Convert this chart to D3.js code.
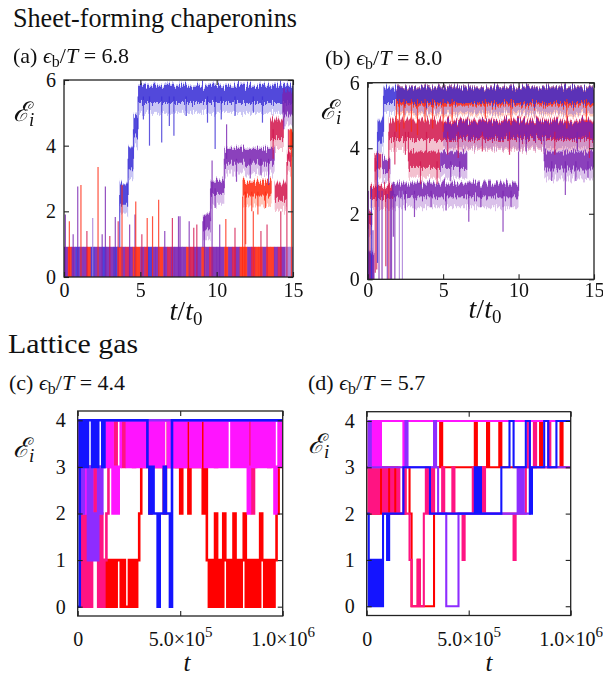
<!DOCTYPE html>
<html>
<head>
<meta charset="utf-8">
<script src="https://cdn.jsdelivr.net/npm/d3@7"></script>
<style>
  body { margin: 0; background: #fff; }
  svg { display: block; }
  text { font-family: "Liberation Serif", "DejaVu Serif", serif; fill: #111; }
</style>
</head>
<body>
<svg id="fig" width="603" height="675"></svg>
<script>
// ---------- data ----------
// chaperonin panels: time in t0, E in units
const tTicksAB = [0, 5, 10, 15];
const eTicksAB = [0, 2, 4, 6];
// lattice panels
const tTicksCD = [0, 5e5, 1e6];
const eTicksCD = [0, 1, 2, 3, 4];

// (a) colour of the fast 0 <-> 1 flickering band, one letter per 0.25 t0
const aBase = "prpbpprbppbppbrpmprrpmbpprpmpppprmpprpmppprpmprrpmrrprrpmpll";
const aBaseTop = 0.92;
// (a) plateaus: [trace, t start, t end, low, high]
const aPlateaus = [
  ["b", 3.65, 4.2, 2.2, 2.85], ["b", 4.2, 4.55, 3.25, 3.95], ["b", 4.55, 4.85, 4.25, 4.9],
  ["b", 4.85, 15, 5.3, 5.82],
  ["p", 9.1, 9.6, 1.45, 1.9], ["p", 9.6, 10.5, 2.5, 2.9], ["p", 10.5, 13.8, 3.45, 3.9],
  ["m", 13.5, 14.4, 4.2, 4.8], ["p", 14.3, 15, 4.95, 5.65],
  ["r", 11.7, 13.6, 2.45, 2.9], ["m", 13.8, 14.6, 2.35, 2.85],
  ["m", 14.6, 14.9, 3.45, 3.8], ["r", 14.75, 15, 3.9, 4.5]
];
// (a) spikes and dips: [t, from, to, trace]
const aSpikes = [
  [0.09, 0, 1.9, "p"], [0.35, 0, 1.7, "r"], [0.6, 0, 1.3, "p"], [0.9, 0, 2.76, "p"], [1.11, 0, 2.8, "r"],
  [1.5, 0, 1.4, "m"], [1.88, 0, 1.8, "l"], [2.23, 0, 3.35, "r"], [2.5, 0, 1.3, "p"], [2.71, 0, 2.76, "p"],
  [3.0, 0, 1.25, "m"], [3.36, 0, 1.83, "p"], [3.55, 0, 1.7, "m"], [3.8, 0, 2.8, "r"], [4.3, 0, 1.6, "p"],
  [4.65, 0, 1.9, "p"], [4.7, 0, 2.3, "r"], [5.1, 0, 1.3, "m"], [5.45, 0, 1.8, "r"], [5.8, 0, 1.85, "r"],
  [6.2, 0, 2.35, "r"], [6.6, 0, 1.4, "p"], [7.1, 0, 1.8, "m"], [7.5, 0, 1.85, "p"], [7.6, 0, 1.85, "p"],
  [8.2, 0, 1.7, "p"], [8.5, 0, 1.5, "m"], [8.7, 0, 1.6, "m"], [9.2, 0, 1.9, "p"], [9.7, 0, 3.55, "p"],
  [10.2, 0, 1.6, "p"], [10.6, 0, 1.77, "r"], [11.2, 0, 1.5, "m"], [11.7, 0, 2.45, "r"], [11.85, 0, 2.6, "r"],
  [12.4, 0, 2.0, "r"], [12.9, 0, 1.4, "m"], [13.3, 0, 1.6, "m"], [14.2, 0, 2.0, "m"], [14.6, 0, 3.5, "m"],
  [14.9, 0, 4.5, "r"],
  [3.65, 0.9, 2.5, "b"], [4.2, 2.5, 3.6, "b"], [4.55, 3.6, 4.5, "b"], [4.85, 4.5, 5.5, "b"],
  [5.2, 4.8, 5.5, "b"], [5.6, 4.0, 5.5, "b"], [6.4, 4.1, 5.5, "b"], [6.9, 4.6, 5.5, "b"], [7.2, 4.3, 5.5, "b"],
  [8.0, 4.9, 5.5, "b"], [9.4, 4.7, 5.5, "b"], [9.9, 3.9, 5.5, "b"], [10.3, 4.8, 5.5, "b"], [11.2, 4.9, 5.5, "b"],
  [12.4, 5.0, 5.5, "b"], [13.0, 4.7, 5.5, "b"],
  [9.1, 0.9, 1.7, "p"], [9.6, 1.7, 2.7, "p"], [9.9, 2.1, 2.7, "p"], [10.5, 2.7, 3.6, "p"], [10.65, 3.6, 4.65, "p"],
  [11.3, 2.9, 3.6, "p"], [12.2, 3.0, 3.6, "p"], [12.9, 3.1, 3.6, "p"], [13.4, 2.8, 3.6, "p"],
  [13.7, 3.6, 4.5, "m"], [14.4, 4.5, 5.3, "p"],
  [11.9, 1.0, 2.6, "r"], [12.3, 2.0, 2.6, "r"], [12.7, 1.9, 2.6, "r"], [13.2, 2.1, 2.6, "r"], [14.7, 3.6, 4.5, "m"]
];

// (b) plateaus
const bPlateaus = [
  ["p", 0, 0.45, 0, 0.8], ["b", 0, 0.3, 0, 0.85],
  ["m", 0, 0.3, 1.6, 2.0], ["m", 0.15, 1.7, 2.45, 2.85], ["m", 0.45, 0.9, 3.35, 3.85],
  ["b", 0.65, 1.05, 4.2, 4.85],
  ["r", 1.9, 15, 5.3, 5.85], ["b", 1.05, 15, 5.38, 5.85],
  ["m", 1.4, 15, 4.25, 4.85], ["p", 5.0, 15, 4.3, 4.8],
  ["p", 0.95, 1.5, 3.3, 3.7], ["m", 2.7, 4.8, 3.4, 3.9], ["p", 4.8, 6.6, 3.4, 3.88],
  ["p", 1.6, 10, 2.5, 2.92], ["p", 11.7, 15, 3.35, 3.9]
];
const bSpikes = [
  [0.05, 0, 2.7, "p"], [0.15, 0, 2.0, "m"], [0.25, 0, 2.8, "b"], [0.35, 0, 1.5, "p"], [0.5, 0.2, 3.7, "m"],
  [0.6, 0.3, 3.6, "m"], [0.75, 0, 2.7, "p"], [0.65, 0.5, 4.5, "b"], [1.05, 4.5, 5.6, "b"],
  [0.95, 0, 2.7, "p"], [1.2, 0.4, 2.7, "m"], [1.3, 0, 2.6, "p"],
  [1.4, 0, 2.7, "m"], [1.5, 0, 2.7, "p"], [1.58, 0, 2.7, "p"], [1.7, 1.3, 2.7, "p"], [1.8, 0, 2.6, "p"],
  [2.1, 0, 2.7, "l"], [2.3, 0, 2.7, "l"], [1.4, 2.7, 4.5, "m"], [1.9, 4.5, 5.5, "r"], [2.7, 3.6, 4.5, "m"],
  [2.1, 4.3, 5.5, "r"], [2.4, 4.6, 5.5, "r"], [2.9, 4.5, 5.5, "r"], [3.3, 4.4, 5.5, "r"], [3.8, 4.8, 5.5, "r"],
  [4.3, 4.6, 5.5, "r"], [5.0, 4.5, 5.5, "r"], [5.6, 4.8, 5.5, "r"], [7.8, 4.9, 5.5, "r"], [9.5, 4.7, 5.5, "r"],
  [13.2, 4.6, 5.5, "r"], [14.5, 4.8, 5.5, "r"],
  [3.5, 2.9, 3.6, "m"], [4.6, 2.9, 3.6, "m"], [5.5, 3.0, 3.6, "p"], [6.1, 3.1, 3.6, "p"],
  [1.8, 3.5, 4.5, "m"], [2.5, 3.8, 4.5, "m"], [3.9, 3.9, 4.5, "m"], [5.3, 3.8, 4.5, "m"], [6.0, 3.7, 4.5, "m"],
  [7.6, 3.9, 4.5, "m"], [9.4, 3.8, 4.5, "m"], [10.5, 3.9, 4.5, "p"], [12.4, 3.8, 4.5, "m"], [13.9, 3.9, 4.5, "p"],
  [14.7, 3.7, 4.5, "m"],
  [2.5, 2.1, 2.7, "p"], [3.1, 1.9, 2.7, "p"], [4.2, 2.2, 2.7, "p"], [5.2, 2.1, 2.7, "p"], [6.7, 1.76, 2.7, "p"],
  [7.5, 2.2, 2.7, "p"], [8.97, 1.45, 2.7, "p"], [9.5, 2.2, 2.7, "p"],
  [10.0, 2.7, 3.9, "p"], [10.05, 3.9, 4.5, "p"], [11.7, 3.6, 4.5, "p"],
  [12.2, 3.0, 3.6, "p"], [13.1, 2.57, 3.6, "p"], [13.8, 3.0, 3.6, "p"], [14.6, 3.1, 3.6, "p"]
];

// lattice gas: level E_i in bins of 1e4 steps (100 bins)
const cRed = [
  3,3,4,3,3,2,3,2,3,2, 1,1,0,1,0,1,0,1,0,1, 1,0,1,0,0,1,0,1,0,1, 2,3,4,3,4,2,3,4,3,4,
  3,4,2,3,4,3,4,3,3,4, 2,4,3,4,2,3,4,3,4,3, 4,2,3,1,0,1,0,2,0,1, 0,2,1,0,1,0,2,0,1,0,
  1,2,0,1,0,1,0,1,0,2, 1,0,1,0,1,0,1,2,3,4];
const cPink = [
  3,2,0,2,0,1,0,2,3,2, 0,2,0,1,2,3,4,4,3,4, 4,4,3,4,4,4,4,3,4,4, 4,4,4,4,4,4,3,4,4,4,
  4,4,4,4,4,4,4,4,3,4, 4,4,4,4,4,4,4,4,4,4, 4,4,4,4,4,4,4,3,4,4, 4,4,4,4,4,4,4,4,4,4,
  4,4,4,4,3,2,3,4,4,4, 4,4,4,3,4,4,4,4,4,4];
const cMagenta = [
  4,3,2,3,2,3,2,3,4,3, 2,3,4,3,4,3,4,2,3,2, 3,4,4,4,3,4,3,4,3,4, 3,4,3,4,4,3,4,3,4,3,
  4,3,4,4,3,4,3,4,3,4, 3,4,3,4,4,3,4,3,4,3, 4,4,3,4,3,4,3,4,3,4, 3,4,3,4,4,3,4,3,4,3,
  4,3,4,2,3,4,3,4,3,4, 3,4,3,4,3,4,2,3,4,3];
const cViolet = [
  4,3,2,4,3,1,3,1,2,1, 3,2,3,4,4,4,4,4,4,4, 4,4,4,4,4,4,4,4,4,4, 4,4,4,4,4,4,4,4,4,4,
  4,4,4,4,4,4,4,4,4,4, 4,4,4,4,4,4,4,4,4,4, 4,4,4,4,4,4,4,4,4,4, 4,4,4,4,4,4,4,4,4,4,
  4,4,4,4,4,4,4,4,4,4, 4,4,4,4,4,4,4,4,4,4];
const cBlue = [
  0,4,3,4,3,4,4,3,4,3, 4,4,3,4,4,4,4,4,4,4, 4,4,4,4,4,4,4,4,4,4, 4,4,4,4,3,2,3,2,2,0,
  2,2,3,2,2,0,4,4,4,4, 4,4,4,4,4,4,4,4,4,4, 4,4,4,4,4,4,4,4,4,4, 4,4,4,4,4,4,4,4,4,4,
  4,4,4,4,4,4,4,4,4,4, 4,4,4,4,4,4,4,4,4,4];

const dRed = [
  3,2,3,2,2,3,2,3,3,2, 3,2,3,2,3,2,2,2,2,3, 3,2,0,0,0,1,0,0,0,0, 0,0,0,3,3,3,4,3,3,3,
  3,3,3,3,3,3,3,3,3,3, 3,3,3,4,3,3,3,3,3,4, 3,3,3,3,3,4,3,3,3,3, 3,3,3,3,3,3,3,3,3,3,
  3,3,4,3,3,4,3,3,3,3, 3,3,3,3,3,4,3,3,3,3];
const dPink = [
  3,2,3,2,3,2,3,3,2,3, 2,2,3,2,2,3,2,2,3,2, 2,1,0,0,0,1,0,0,2,3, 2,2,3,2,2,2,2,3,2,2,
  2,2,3,2,2,2,2,1,2,2, 2,2,3,2,2,2,2,3,2,2, 2,2,2,2,2,2,2,2,2,2, 2,2,1,2,2,2,2,2,3,4,
  4,4,3,4,4,4,4,4,4,3, 4,4,4,4,4,4,4,4,4,4];
const dMagenta = [
  3,4,3,4,3,4,3,4,4,4, 4,4,4,4,4,4,4,4,3,4, 4,4,4,4,4,4,4,4,4,4, 4,4,4,4,4,4,4,4,4,4,
  4,4,4,4,4,4,4,4,4,4, 4,4,4,4,4,4,4,4,4,4, 4,4,4,4,4,4,4,4,4,4, 4,4,4,4,4,4,4,4,4,4,
  4,4,4,4,4,4,4,4,4,4, 4,4,4,4,4,4,4,4,4,4];
const dViolet = [
  3,4,3,3,3,3,3,3,3,3, 3,3,3,3,3,3,3,3,3,4, 3,3,3,3,3,3,3,3,3,3, 3,3,3,4,3,2,2,2,2,0,
  0,0,0,0,0,2,2,2,2,2, 2,2,2,2,2,2,2,2,2,2, 2,2,2,2,2,2,2,2,2,2, 2,2,2,2,3,2,3,2,2,2,
  3,3,3,3,3,3,3,3,3,3, 3,3,3,3,3,3,3,3,3,3];
const dBlue = [
  2,0,1,0,1,0,1,0,2,2, 1,2,2,2,2,2,2,2,3,3, 3,3,3,3,3,3,3,3,3,3, 3,2,2,2,2,2,2,2,2,2,
  2,2,2,2,2,2,2,2,2,2, 2,2,2,3,2,3,2,2,2,2, 2,2,2,2,2,2,3,3,3,3, 4,4,3,3,3,3,3,3,4,4,
  2,3,3,3,3,3,3,4,4,3, 3,3,3,4,4,4,4,4,4,4];

const chapColor = { b: "#3b2fd6", p: "#7a24b2", r: "#ff2a12", m: "#d3174f", l: "#a77ad6" };
const latColor = { red: "#ff0000", pink: "#ff1482", magenta: "#ff14ff", violet: "#8e2cff", blue: "#1414ff" };

// ---------- drawing ----------
const svg = d3.select("#fig");
const defs = svg.append("defs");

// jitter filter: shifts each pixel column up/down a little so the plateaus look noisy
const jitter = defs.append("filter").attr("id", "jitter")
  .attr("x", "-1%").attr("y", "-30%").attr("width", "102%").attr("height", "160%");
jitter.append("feTurbulence").attr("type", "fractalNoise").attr("baseFrequency", "0.9 0.02")
  .attr("numOctaves", 2).attr("seed", 4).attr("result", "noise");
jitter.append("feColorMatrix").attr("in", "noise").attr("type", "matrix")
  .attr("values", "1 0 0 0 0  0 0 0 0 0.5  0 0 1 0 0  0 0 0 0 1").attr("result", "shift");
jitter.append("feDisplacementMap").attr("in", "SourceGraphic").attr("in2", "shift")
  .attr("scale", 16).attr("xChannelSelector", "G").attr("yChannelSelector", "R");

function axes(x, y, xVals, yVals, opt) {
  const [x0, x1] = x.range(), [y0, y1] = y.range();
  const g = svg.append("g");
  g.append("g").attr("transform", `translate(${x0},0)`)
    .call(d3.axisLeft(y).tickValues(yVals).tickSize(-5).tickPadding(opt.yPad).tickFormat(d3.format("d")));
  g.append("g").attr("transform", `translate(${x1},0)`)
    .call(d3.axisRight(y).tickValues(yVals).tickSize(-5).tickFormat(""));
  const bottom = g.append("g").attr("transform", `translate(0,${y0})`)
    .call(d3.axisBottom(x).tickValues(xVals).tickSize(-5).tickPadding(opt.xPad).tickFormat(d3.format("d")));
  g.append("g").attr("transform", `translate(0,${y1})`)
    .call(d3.axisTop(x).tickValues(xVals).tickSize(-5).tickFormat(""));
  g.selectAll(".domain").remove();
  g.selectAll(".tick line").attr("stroke", "#222").attr("stroke-width", 1.1);
  g.selectAll("text").attr("font-family", null).attr("font-size", 20).attr("fill", "#111");
  g.append("rect")
    .attr("x", x0).attr("y", y1).attr("width", x1 - x0).attr("height", y0 - y1)
    .attr("fill", "none").attr("stroke", "#222").attr("stroke-width", 1.3);
  return bottom;
}

function clipFor(id, x, y) {
  const [x0, x1] = x.range(), [y0, y1] = y.range();
  defs.append("clipPath").attr("id", id).append("rect")
    .attr("x", x0).attr("y", y1).attr("width", x1 - x0).attr("height", y0 - y1);
  return svg.append("g").attr("clip-path", `url(#${id})`);
}

function drawChap(id, x, y, base, baseTop, plateaus, spikes) {
  const plot = clipFor(id, x, y);
  if (base) {
    const w = 15 / base.length;
    plot.selectAll(".stripe").data(base.split("")).join("rect")
      .attr("x", (d, i) => x(i * w))
      .attr("width", (d, i) => x((i + 1) * w) - x(i * w) + 0.4)
      .attr("y", y(baseTop)).attr("height", y(0) - y(baseTop))
      .attr("fill", d => chapColor[d]).attr("opacity", 0.9);
  }
  const noisy = plot.append("g").attr("filter", "url(#jitter)");
  // light fringe below every plateau (the downward fluctuations)
  noisy.selectAll(".fringe").data(plateaus).join("rect")
    .attr("x", d => x(d[1])).attr("width", d => x(d[2]) - x(d[1]))
    .attr("y", d => y(d[4] + 0.05)).attr("height", d => y(d[3] > 0 ? d[3] - 0.3 : -0.5) - y(d[4] + 0.05))
    .attr("fill", d => chapColor[d[0]]).attr("opacity", 0.28);
  plot.selectAll(".spike").data(spikes).join("line")
    .attr("x1", d => x(d[0])).attr("x2", d => x(d[0]))
    .attr("y1", d => y(d[1])).attr("y2", d => y(d[2]))
    .attr("stroke", d => chapColor[d[3]]).attr("stroke-width", 1.2).attr("opacity", 0.8);
  noisy.selectAll(".core").data(plateaus).join("rect")
    .attr("x", d => x(d[1])).attr("width", d => x(d[2]) - x(d[1]))
    .attr("y", d => y(d[4])).attr("height", d => y(d[3] > 0 ? d[3] : -0.5) - y(d[4]))
    .attr("fill", d => chapColor[d[0]]).attr("opacity", 0.82);
}

function drawLattice(id, x, y, series, width) {
  const plot = clipFor(id, x, y);
  const line = d3.line().x(d => x(d[0])).y(d => y(d[1])).curve(d3.curveStepAfter);
  series.forEach(([key, levels]) => {
    const pts = levels.map((v, i) => [i * 1e4, v]);
    pts.push([1e6, levels[levels.length - 1]]);
    plot.append("path").attr("d", line(pts))
      .attr("fill", "none").attr("stroke", latColor[key])
      .attr("stroke-width", width).attr("stroke-linejoin", "miter");
  });
}

function paramLabel(x, y, tag, val) {
  const t = svg.append("text").attr("x", x).attr("y", y).attr("font-size", 22);
  t.append("tspan").text(`(${tag}) `);
  t.append("tspan").attr("font-style", "italic").text("ϵ");
  t.append("tspan").attr("font-size", 16).attr("dy", 4).text("b");
  t.append("tspan").attr("dy", -4).text("/");
  t.append("tspan").attr("font-style", "italic").text("T");
  t.append("tspan").text(" = " + val);
}

function eLabel(x, y) {
  const t = svg.append("text").attr("x", x).attr("y", y).attr("font-size", 27);
  t.append("tspan").attr("font-family", "DejaVu Serif").attr("font-style", "italic").text("ℰ");
  t.append("tspan").attr("font-style", "italic").attr("font-size", 19).attr("dy", 5).text("i");
}

function tLabel(cx, y, sub, size) {
  const t = svg.append("text").attr("x", cx).attr("y", y).attr("font-size", size).attr("text-anchor", "middle");
  t.append("tspan").attr("font-style", "italic").text("t");
  if (sub) {
    t.append("tspan").text("/");
    t.append("tspan").attr("font-style", "italic").text("t");
    t.append("tspan").attr("font-size", 19).attr("dy", 5).text("0");
  }
}

function sciTicks(bottom) {
  bottom.selectAll("g.tick text").each(function (d) {
    if (d === 0) return;
    const s = d3.select(this).text("");
    const e = Math.floor(Math.log10(d));
    s.append("tspan").text((d / Math.pow(10, e)).toFixed(1) + "×10");
    s.append("tspan").attr("font-size", 15).attr("dy", -9).text(e);
  });
}

// titles
svg.append("text").attr("x", 13).attr("y", 27).attr("font-size", 27)
  .attr("textLength", 284).attr("lengthAdjust", "spacingAndGlyphs").text("Sheet-forming chaperonins");
svg.append("text").attr("x", 8).attr("y", 353).attr("font-size", 27)
  .attr("textLength", 130).attr("lengthAdjust", "spacingAndGlyphs").text("Lattice gas");

// (a)
const xA = d3.scaleLinear().domain([0, 15]).range([64, 293]);
const yA = d3.scaleLinear().domain([0, 6]).range([277, 80]);
drawChap("clipA", xA, yA, aBase, aBaseTop, aPlateaus, aSpikes);
axes(xA, yA, tTicksAB, eTicksAB, { xPad: 6, yPad: 8 });
paramLabel(13, 63, "a", "6.8");
eLabel(13, 121);
tLabel(186, 320, true, 28);

// (b)
const xB = d3.scaleLinear().domain([0, 15]).range([367.7, 594]);
const yB = d3.scaleLinear().domain([0, 6]).range([279.3, 82.7]);
drawChap("clipB", xB, yB, null, 0, bPlateaus, bSpikes);
axes(xB, yB, tTicksAB, eTicksAB, { xPad: 4, yPad: 8 });
paramLabel(325, 65, "b", "8.0");
eLabel(320, 119);
tLabel(485, 318, true, 28);

// (c)
const xC = d3.scaleLinear().domain([0, 1e6]).range([77.7, 282.7]);
const yC = d3.scaleLinear().domain([-0.2, 4.2]).range([616, 411]);
drawLattice("clipC", xC, yC, [["red", cRed], ["pink", cPink], ["magenta", cMagenta], ["violet", cViolet], ["blue", cBlue]], 2.6);
sciTicks(axes(xC, yC, tTicksCD, eTicksCD, { xPad: 16, yPad: 12 }));
paramLabel(9, 390, "c", "4.4");
eLabel(13, 457);
tLabel(187, 671, false, 25);

// (d)
const xD = d3.scaleLinear().domain([0, 1e6]).range([366.7, 570.7]);
const yD = d3.scaleLinear().domain([-0.2, 4.2]).range([615.5, 411.7]);
drawLattice("clipD", xD, yD, [["red", dRed], ["pink", dPink], ["magenta", dMagenta], ["violet", dViolet], ["blue", dBlue]], 2.1);
sciTicks(axes(xD, yD, tTicksCD, eTicksCD, { xPad: 16, yPad: 12 }));
paramLabel(308, 390, "d", "5.7");
eLabel(308, 453);
tLabel(489, 671, false, 25);
</script>
</body>
</html>
